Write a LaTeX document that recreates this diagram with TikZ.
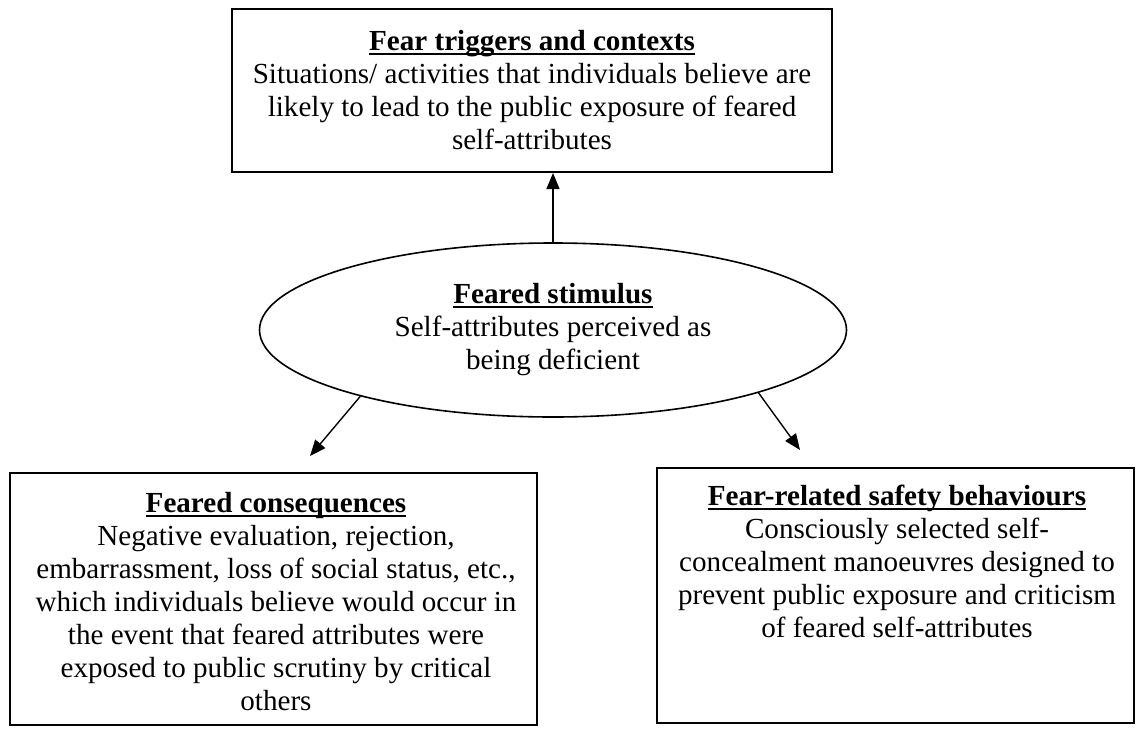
\documentclass[tikz,border=0pt]{standalone}
\usepackage{fontspec}
\setmainfont{Liberation Serif}
\usetikzlibrary{shapes.geometric,arrows.meta}

% bold heading with an underline at a fixed depth below the baseline
\newcommand{\hd}[1]{\rule{0pt}{25pt}\setbox0\hbox{\bfseries #1}\rlap{\copy0}\rule[-4.5pt]{\wd0}{2pt}}

\begin{document}
\begin{tikzpicture}[x=1pt,y=-1pt,
  frame/.style={draw, line width=2pt, inner sep=0pt},
  txt/.style={anchor=north, inner sep=0pt, align=center,
    font=\fontsize{29.1}{33}\selectfont},
  arr/.style={line width=1.4pt, -{Triangle[length=16pt,width=13pt]}}]
  \path[use as bounding box] (0,0) rectangle (1137,728);

  % boxes and ellipse
  \node[frame, minimum width=600pt, minimum height=163pt] (top) at (532,90.5) {};
  \node[frame, minimum width=527pt, minimum height=252pt] (cons) at (273.5,599) {};
  \node[frame, minimum width=477pt, minimum height=255pt] (safe) at (895.5,595.5) {};
  \node[draw, ellipse, line width=1.6pt, inner sep=0pt,
        minimum width=587pt, minimum height=174pt] (stim) at (553,330) {};

  % texts
  \node[txt] (toptxt) at (532,25) {\hd{Fear triggers and contexts}\\
    Situations/ activities that individuals believe are\\
    likely to lead to the public exposure of feared\\
    self-attributes};
  \node[txt] (stimtxt) at (553,278) {\hd{Feared stimulus}\\
    Self-attributes perceived as\\
    being deficient};
  \node[txt] (constxt) at (276,487) {\hd{Feared consequences}\\
    Negative evaluation, rejection,\\
    embarrassment, loss of social status, etc.,\\
    which individuals believe would occur in\\
    the event that feared attributes were\\
    exposed to public scrutiny by critical\\
    others};
  \node[txt] (safetxt) at (897,480) {\hd{Fear-related safety behaviours}\\
    Consciously selected self-\\
    concealment manoeuvres designed to\\
    prevent public exposure and criticism\\
    of feared self-attributes};

  % connectors
  \coordinate (lend) at (310,456);
  \coordinate (rend) at (800,450);
  \draw[arr] (stim.north) -- (stim.north |- top.south);
  \draw[arr] (stim.-161.2) -- (lend);
  \draw[arr] (stim.-17.2) -- (rend);
\end{tikzpicture}
\end{document}
